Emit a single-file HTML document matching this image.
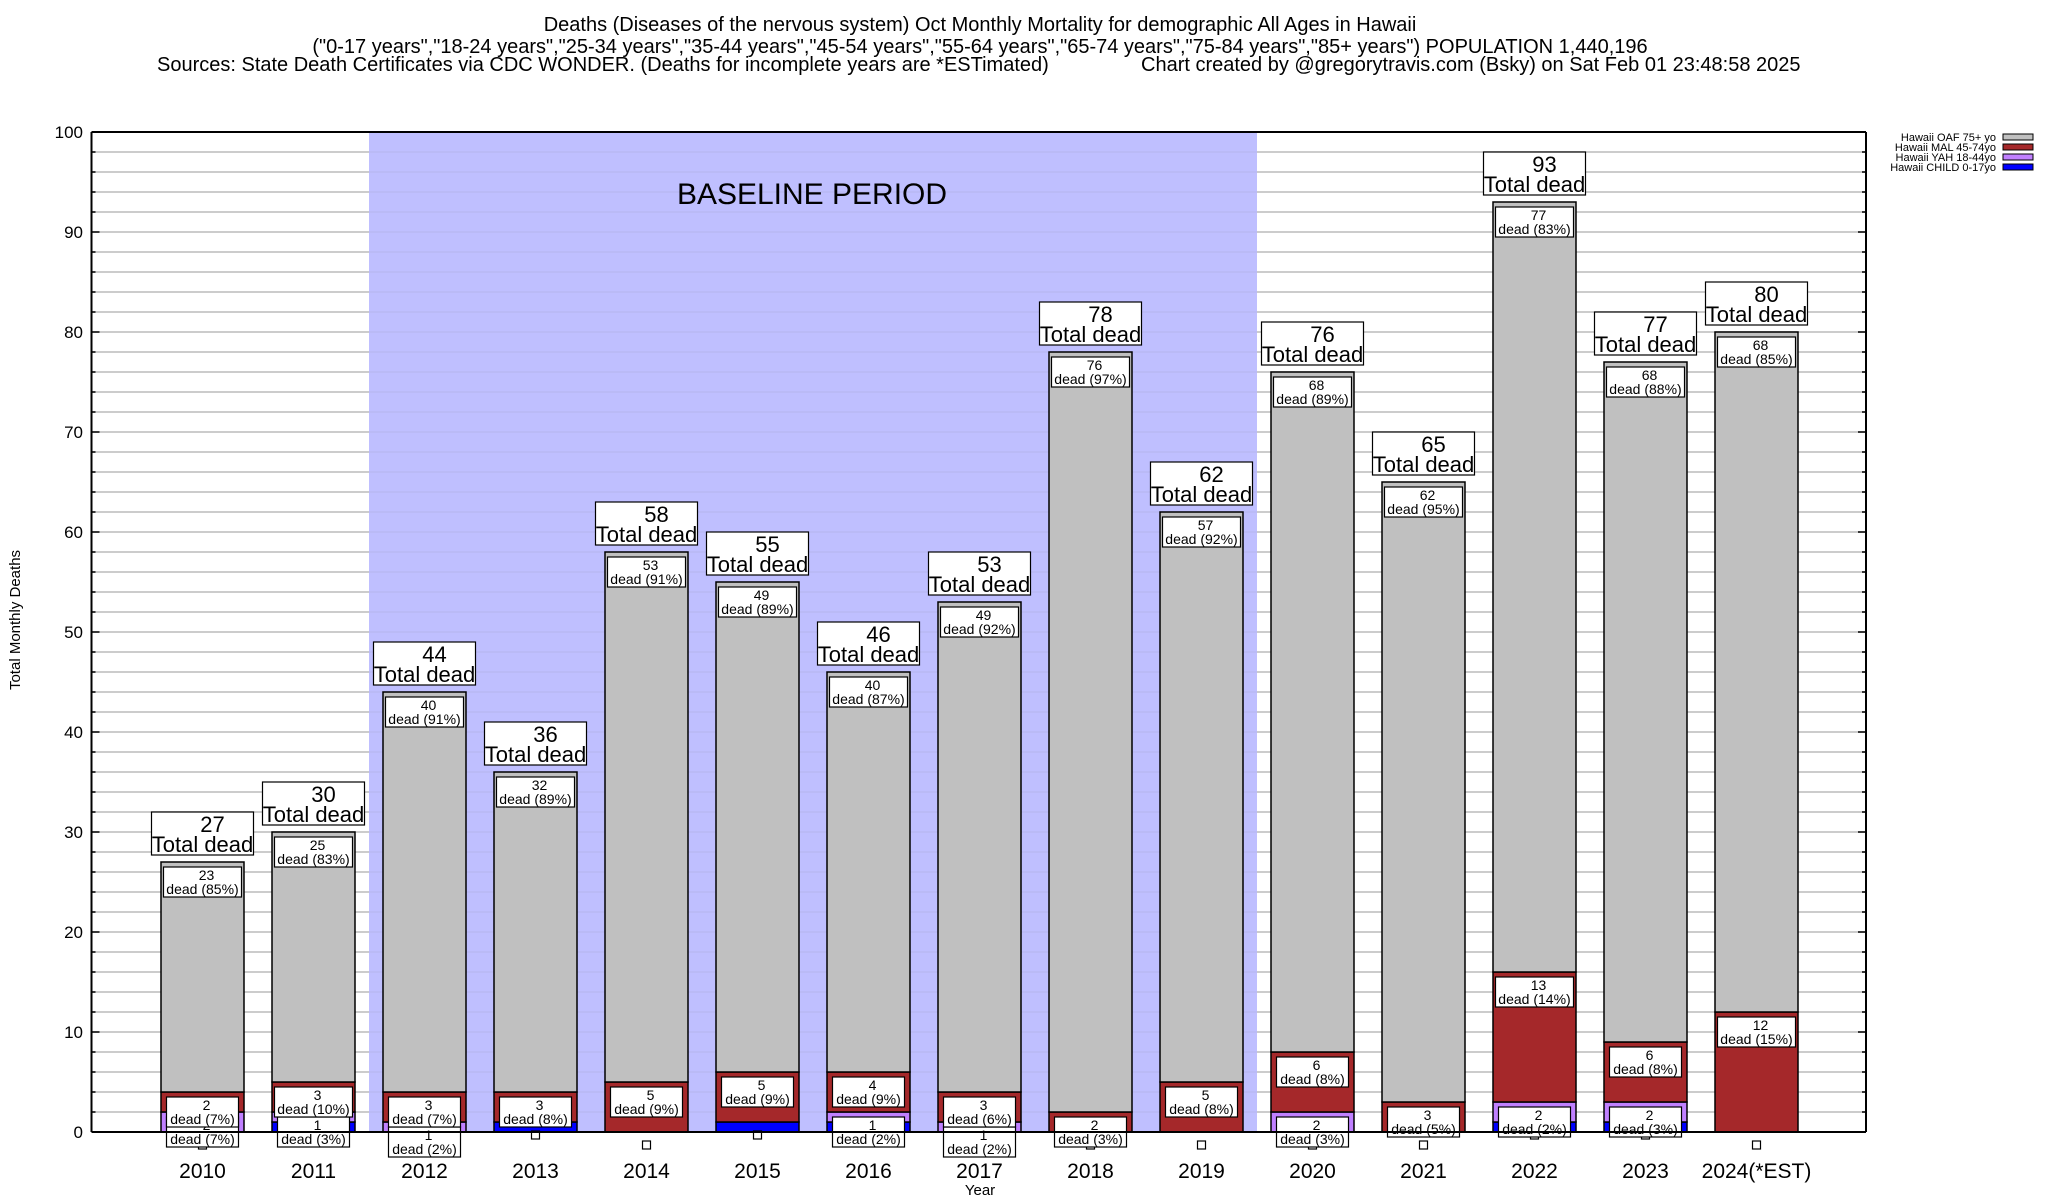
<!DOCTYPE html>
<html><head><meta charset="utf-8"><style>
html,body{margin:0;padding:0;background:#fff;}
svg{display:block;font-family:"Liberation Sans",Arial,sans-serif;}
</style></head><body>
<svg id="chart" width="2048" height="1200" viewBox="0 0 2048 1200" xmlns="http://www.w3.org/2000/svg">
<rect x="0" y="0" width="2048" height="1200" fill="#fff"/>
<g font-size="20" text-anchor="middle">
<text x="980" y="31">Deaths (Diseases of the nervous system) Oct Monthly Mortality for demographic All Ages in Hawaii</text>
<text x="980" y="53">("0-17 years","18-24 years","25-34 years","35-44 years","45-54 years","55-64 years","65-74 years","75-84 years","85+ years") POPULATION 1,440,196</text>
<text x="157" y="71" text-anchor="start">Sources: State Death Certificates via CDC WONDER. (Deaths for incomplete years are *ESTimated)</text>
<text x="1141" y="71" text-anchor="start">Chart created by @gregorytravis.com (Bsky) on Sat Feb 01 23:48:58 2025</text>
</g>
<g id="grid"></g>
<rect x="369" y="132" width="888" height="1000" fill="#bfbfff"/>
<g id="grid2"></g>
<text x="812" y="204" font-size="30" text-anchor="middle">BASELINE PERIOD</text>
<g id="bars"></g>
<g id="labels"></g>
<g id="axes"></g>
<text x="980" y="1195" font-size="15" text-anchor="middle">Year</text>
<text transform="translate(20,620) rotate(-90)" font-size="15" text-anchor="middle">Total Monthly Deaths</text>
<g id="legend"></g>
</svg>
<script>
const years = ["2010","2011","2012","2013","2014","2015","2016","2017","2018","2019","2020","2021","2022","2023","2024(*EST)"];
const child = [0,1,0,1,0,1,1,0,0,0,0,0,1,1,0];
const yah = [2,1,1,0,0,0,1,1,0,0,2,0,2,2,0];
const mal = [2,3,3,3,5,5,4,3,2,5,6,3,13,6,12];
const oaf = [23,25,40,32,53,49,40,49,76,57,68,62,77,68,68];
const totals = [27,30,44,36,58,55,46,53,78,62,76,65,93,77,80];
const yTicks = [0,10,20,30,40,50,60,70,80,90,100];

const NS="http://www.w3.org/2000/svg";
const X0=91.5, X1=1866, Y0=1132, Y1=132;
function xc(i){return 202.5+i*111;}
function yv(v){return Y0-(v/100)*(Y0-Y1);}
function mk(tag,attrs,parent){const e=document.createElementNS(NS,tag);for(const k in attrs)e.setAttribute(k,attrs[k]);parent.appendChild(e);return e;}

const grid=document.getElementById('grid'), grid2=document.getElementById('grid2');
for(let v=2;v<100;v+=2){
  const l=mk('line',{x1:X0,x2:X1,y1:yv(v),y2:yv(v),stroke:'#bbb','stroke-width':1.5},grid);
  
  
  const l2=mk('line',{x1:369,x2:1257,y1:yv(v),y2:yv(v),stroke:'#b4b4ee','stroke-width':1},grid2);
  
  
}

const colors={oaf:'#c0c0c0',mal:'#a5282a',yah:'#c080ff',child:'#0000ff'};
const bars=document.getElementById('bars'), labels=document.getElementById('labels');
const bw=83;
years.forEach((yr,i)=>{
  const cx=xc(i);
  const segs=[['child',child[i]],['yah',yah[i]],['mal',mal[i]],['oaf',oaf[i]]];
  let base=0;
  const tops=[];
  segs.forEach(([k,v])=>{
    if(v>0){
      const r=mk('rect',{x:cx-bw/2,y:yv(base+v),width:bw,height:yv(base)-yv(base+v),fill:colors[k],stroke:'#000','stroke-width':1.5},bars);
      
      
    }
    tops.push([k,v,base+v]);
    base+=v;
  });
  const sq=mk('rect',{x:cx-4,y:yv(child[i])+9,width:8,height:8,fill:'#fff',stroke:'#000','stroke-width':1.2},labels);
  
  
  tops.forEach(([k,v,top])=>{
    if(k==='child'||v<=0)return;
    const g=mk('g',{},labels);
    
    
    const pct=Math.round(v/totals[i]*100);
    const t2='dead ('+pct+'%)';
    const w=pct>=10?78:72;
    const y=yv(top)+5;
    mk('rect',{x:cx-w/2,y:y,width:w,height:30,fill:'#fff',stroke:'#000','stroke-width':1.2},g);
    const a=mk('text',{x:cx+4,y:y+13,'font-size':14,'text-anchor':'middle'},g);a.textContent=v;
    const b=mk('text',{x:cx,y:y+27,'font-size':14,'text-anchor':'middle'},g);b.textContent=t2;
  });
  const g=mk('g',{},labels);
  
  
  const ty=yv(totals[i])-50;
  mk('rect',{x:cx-51,y:ty,width:102,height:43,fill:'#fff',stroke:'#000','stroke-width':1.2},g);
  const a=mk('text',{x:cx+10,y:ty+20,'font-size':22,'text-anchor':'middle'},g);a.textContent=totals[i];
  const b=mk('text',{x:cx,y:ty+40,'font-size':22,'text-anchor':'middle'},g);b.textContent='Total dead';
  const xl=mk('text',{x:cx,y:1178,'font-size':21,'text-anchor':'middle'},labels);
  
  
  xl.textContent=yr;
});

const axes=document.getElementById('axes');
mk('line',{x1:X0,x2:X0,y1:Y1,y2:Y0,stroke:'#000','stroke-width':2},axes);
mk('line',{x1:X0,x2:X1,y1:Y1,y2:Y1,stroke:'#000','stroke-width':2},axes);
mk('line',{x1:X1,x2:X1,y1:Y1,y2:Y0,stroke:'#000','stroke-width':2},axes);
mk('line',{x1:X0,x2:X1,y1:Y0,y2:Y0,stroke:'#000','stroke-width':2},axes);
for(let v=2;v<100;v+=2){
  mk('line',{x1:X0,x2:X0+(v%10===0?8:4),y1:yv(v),y2:yv(v),stroke:'#000','stroke-width':1.5},axes);
  mk('line',{x1:X1-(v%10===0?8:4),x2:X1,y1:yv(v),y2:yv(v),stroke:'#000','stroke-width':1.5},axes);
}
yTicks.forEach(v=>{
  const t=mk('text',{x:83,y:yv(v)+6,'font-size':17,'text-anchor':'end'},axes);
  
  
  t.textContent=v;
});

const legNames=["Hawaii OAF 75+ yo","Hawaii MAL 45-74yo","Hawaii YAH 18-44yo","Hawaii CHILD 0-17yo"];
const legKeys=['oaf','mal','yah','child'];
const leg=document.getElementById('legend');
legNames.forEach((n,j)=>{
  const g=mk('g',{},leg);
  
  
  const y=137+j*10;
  const t=mk('text',{x:1996,y:y+4,'font-size':11,'text-anchor':'end'},g);t.textContent=n;
  mk('rect',{x:2003,y:y-3,width:30,height:6,fill:colors[legKeys[j]],stroke:'#000','stroke-width':1},g);
});
</script>
</body></html>
